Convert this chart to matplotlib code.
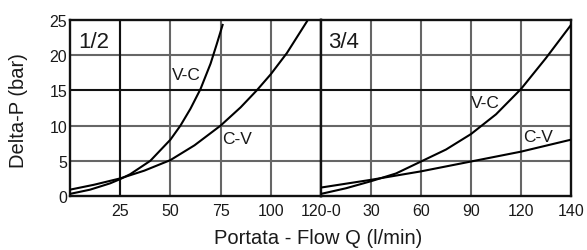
import matplotlib
matplotlib.use("Agg")
from matplotlib import pyplot as plt

plt.rcParams['font.family'] = ['Liberation Sans', 'DejaVu Sans']

# 1/2 valve
q_vc_12 = [0, 10, 20, 25, 30, 40, 50, 55, 60, 65, 70, 73, 76]
p_vc_12 = [0.3, 0.9, 1.8, 2.4, 3.1, 5.0, 8.0, 10.0, 12.4, 15.2, 18.8, 21.5, 24.3]
q_cv_12 = [0, 12, 25, 37, 50, 62, 75, 85, 93, 100, 108, 118]
p_cv_12 = [0.9, 1.6, 2.5, 3.6, 5.1, 7.2, 10.0, 12.6, 15.0, 17.3, 20.3, 24.8]

# 3/4 valve
q_vc_34 = [0, 15, 30, 45, 60, 75, 90, 105, 120, 135, 150]
p_vc_34 = [0.3, 1.1, 2.1, 3.2, 4.9, 6.6, 8.8, 11.6, 15.2, 19.6, 24.3]
q_cv_34 = [0, 30, 60, 90, 120, 150]
p_cv_34 = [1.2, 2.3, 3.5, 4.9, 6.3, 8.0]

ticks_12 = [25, 50, 75, 100, 125]
labels_12 = ['25', '50', '75', '100', '120-0']
ticks_34 = [30, 60, 90, 120, 150]
labels_34 = ['30', '60', '90', '120', '140']
yticks = [0, 5, 10, 15, 20, 25]

fig = plt.figure(figsize=(5.87, 2.51), dpi=100)
ax1 = fig.add_axes([70 / 587, 1 - 197 / 251, 251 / 587, 176 / 251])
ax2 = fig.add_axes([321 / 587, 1 - 197 / 251, 250 / 587, 176 / 251])

txt = '#1a1a1a'
for ax, xmax, tks, lbl in [(ax1, 125, ticks_12, labels_12), (ax2, 150, ticks_34, labels_34)]:
    ax.set_xlim(0, xmax)
    ax.set_ylim(0, 25)
    for t in tks[:-1]:
        ax.axvline(t, color='#666666', lw=1.5, zorder=1)
    for y in [5, 10, 20]:
        ax.axhline(y, color='#666666', lw=1.5, zorder=1)
    ax.axhline(15, color='#111111', lw=1.5, zorder=1)
    ax.set_xticks(tks)
    ax.set_xticklabels(lbl)
    ax.tick_params(length=0, labelsize=11.5, colors=txt, pad=5)
    for s in ax.spines.values():
        s.set_linewidth(1.7)
        s.set_color('#111111')

ax1.axvline(25, color='#111111', lw=1.5, zorder=1)
ax1.set_yticks(yticks)
ax1.tick_params(axis='y', pad=2)
ax2.set_yticks([])
ax2.set_xticks(ticks_34)
ax2.set_xticklabels(labels_34)

ax1.plot(q_vc_12, p_vc_12, color='black', lw=1.5, zorder=3)
ax1.plot(q_cv_12, p_cv_12, color='black', lw=1.5, zorder=3)
ax2.plot(q_vc_34, p_vc_34, color='black', lw=1.5, zorder=3)
ax2.plot(q_cv_34, p_cv_34, color='black', lw=1.5, zorder=3)

ax1.text(4, 22.0, '1/2', fontsize=16, color=txt, va='center')
ax2.text(4, 22.0, '3/4', fontsize=16, color=txt, va='center')
ax1.text(51, 17.3, 'V-C', fontsize=12.5, color=txt, va='center')
ax1.text(76, 8.1, 'C-V', fontsize=12.5, color=txt, va='center')
ax2.text(90, 13.3, 'V-C', fontsize=12.5, color=txt, va='center')
ax2.text(121, 8.5, 'C-V', fontsize=12.5, color=txt, va='center')

fig.text(19 / 587, 1 - 111 / 251, 'Delta-P (bar)', fontsize=14.5, color=txt,
         rotation=90, ha='center', va='center')
fig.text(318 / 587, 1 - 239 / 251, 'Portata - Flow Q (l/min)', fontsize=14.5,
         color=txt, ha='center', va='center')

fig.savefig('out.png', dpi=100)
